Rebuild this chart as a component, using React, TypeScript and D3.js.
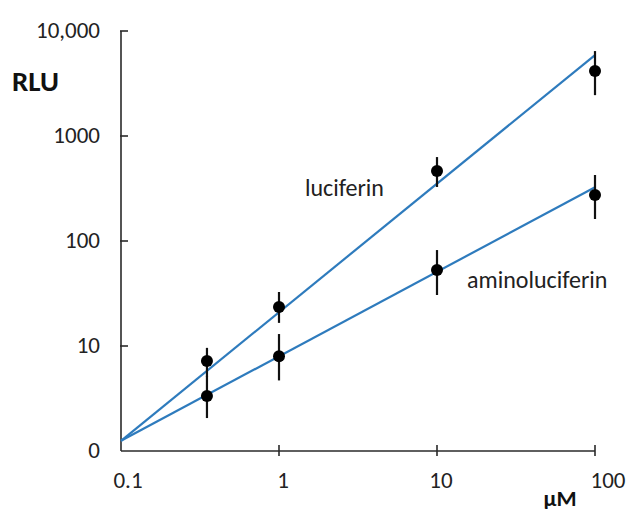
import React from 'react'
import * as d3 from 'd3'

// concentrations (uM) and RLU readings
const conc = [0.35, 1, 10, 100]
const lucMean = [7.2, 23.5, 464, 4150]
const lucLow = [5.1, 16.6, 327, 2450]
const lucHigh = [9.6, 32.7, 630, 6440]
const aminoMean = [3.34, 8.0, 53, 274]
const aminoLow = [2.06, 4.7, 30.6, 162]
const aminoHigh = [5.2, 13, 82, 425]

// fitted lines, end points
const fitX = [0.1, 100]
const lucFit = [1.25, 5900]
const aminoFit = [1.25, 325]

const yTicks = [1, 10, 100, 1000, 10000]
const yTickLabels = ['0', '10', '100', '1000', '10,000']
const xTicks = [0.1, 1, 10, 100]
const xTickLabels = ['0.1', '1', '10', '100']

const W = 629
const H = 513

const App = () => {
  const x = d3.scaleLog().domain([0.1, 100]).range([121, 595])
  const y = d3.scaleLog().domain([1, 10000]).range([451, 31])

  const line = d3.line<[number, number]>().x(d => x(d[0])).y(d => y(d[1]))

  const font = 'Carlito, "Open Sans", "Liberation Sans", sans-serif'
  const axisColor = '#2a2a2a'
  const blue = '#2e7bbd'

  const series = [
    { mean: lucMean, low: lucLow, high: lucHigh, fit: lucFit },
    { mean: aminoMean, low: aminoLow, high: aminoHigh, fit: aminoFit },
  ]

  // small nudges of the x labels, as in the original
  const xLabelShift = [7, 4, 4, 13]

  return (
    <svg width={W} height={H} style={{ position: 'absolute', left: 0, top: 0, background: '#fff' }}>
      {/* axes */}
      <line x1={x(0.1)} x2={x(0.1)} y1={y(10000)} y2={y(1)} stroke={axisColor} strokeWidth={1.6} />
      <line x1={x(0.1)} x2={x(100)} y1={y(1)} y2={y(1)} stroke={axisColor} strokeWidth={1.6} />
      {yTicks.map((t, i) => (
        <g key={'y' + t}>
          {i > 0 && <line x1={x(0.1) - 1} x2={x(0.1) + 7} y1={y(t)} y2={y(t)} stroke={axisColor} strokeWidth={1.6} />}
          <text x={100} y={y(t)} dy="0.3em" textAnchor="end" fontFamily={font} fontSize={23} fill="#222">
            {yTickLabels[i]}
          </text>
        </g>
      ))}
      {xTicks.map((t, i) => (
        <g key={'x' + t}>
          {i > 0 && <line x1={x(t)} x2={x(t)} y1={y(1) - 6} y2={y(1) + 5} stroke={axisColor} strokeWidth={1.6} />}
          <text x={x(t) + xLabelShift[i]} y={488} textAnchor="middle" fontFamily={font} fontSize={23} fill="#222">
            {xTickLabels[i]}
          </text>
        </g>
      ))}
      <text x={12} y={91} fontFamily={font} fontSize={29} fontWeight="bold" fill="#111">RLU</text>
      <text x={560} y={506} textAnchor="middle" fontFamily={font} fontSize={23} fontWeight="bold" fill="#111">μM</text>

      {/* fitted lines */}
      {series.map((s, k) => (
        <path key={'f' + k} d={line(fitX.map((v, i) => [v, s.fit[i]]))!} fill="none" stroke={blue} strokeWidth={2.2} />
      ))}

      {/* error bars and points */}
      {series.map((s, k) => (
        <g key={'p' + k}>
          {conc.map((c, i) => (
            <g key={i}>
              <line x1={x(c)} x2={x(c)} y1={y(s.low[i])} y2={y(s.high[i])} stroke="#111" strokeWidth={2.2} />
              <circle cx={x(c)} cy={y(s.mean[i])} r={6} fill="#000" />
            </g>
          ))}
        </g>
      ))}

      <text x={305} y={196} fontFamily={font} fontSize={24} fill="#222">luciferin</text>
      <text x={467} y={288} fontFamily={font} fontSize={24} fill="#222">aminoluciferin</text>
    </svg>
  )
}

export default App
